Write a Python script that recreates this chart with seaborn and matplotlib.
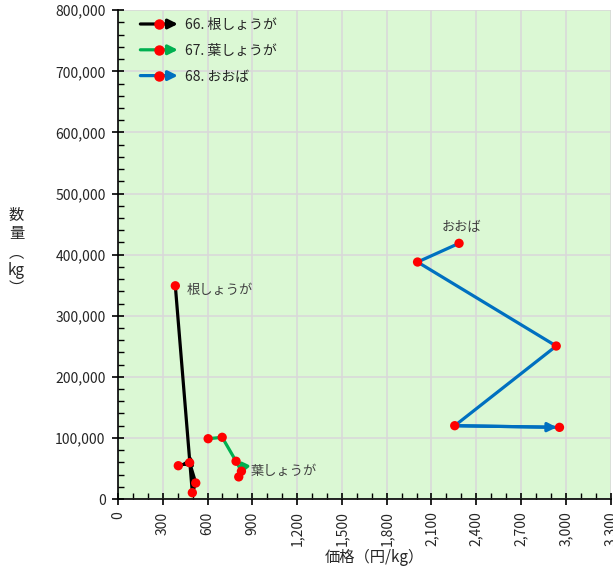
import numpy as np
import pandas as pd
import matplotlib
matplotlib.use("Agg")
import matplotlib.pyplot as plt
import seaborn as sns
from matplotlib.lines import Line2D
from matplotlib.patches import FancyArrowPatch
from matplotlib.legend_handler import HandlerBase
from matplotlib.ticker import MultipleLocator, FuncFormatter

# data (price yen/kg, quantity kg)
series_names = ["66. 根しょうが", "67. 葉しょうが", "68. おおば"]
short_names = ["根しょうが", "葉しょうが", "おおば"]
colors = ["#000000", "#00b050", "#0070c0"]

ne_price = [384, 498, 521, 480, 404]
ne_qty = [349000, 10300, 26200, 59400, 54500]

ha_price = [604, 698, 791, 827, 809]
ha_qty = [98700, 101000, 61800, 45500, 36200]

ooba_price = [2285, 2007, 2936, 2256, 2958]
ooba_qty = [418500, 387900, 250400, 120000, 117300]

sns.set_theme(style="white")
plt.rcParams["font.family"] = ["Noto Sans CJK JP", "DejaVu Sans"]

fig, ax = plt.subplots(figsize=(6.13, 5.69), dpi=100)
fig.subplots_adjust(left=0.1925, right=0.996, top=0.982, bottom=0.123)
ax.set_facecolor("#dbf8d4")

all_series = [(ne_price, ne_qty), (ha_price, ha_qty), (ooba_price, ooba_qty)]

for (px, qy), name, c in zip(all_series, short_names, colors):
    df = pd.DataFrame({"price": px, "qty": qy})
    sns.lineplot(data=df, x="price", y="qty", sort=False, estimator=None,
                 color=c, lw=2.3, ax=ax, zorder=3)
    # arrow head on last segment
    ax.annotate("", xy=(px[-1], qy[-1]), xytext=(px[-2], qy[-2]),
                arrowprops=dict(arrowstyle="-|>", color=c, lw=2.3,
                                mutation_scale=13, shrinkA=0, shrinkB=2),
                zorder=4)
    sns.scatterplot(data=df, x="price", y="qty", color="#ff0000", s=45,
                    edgecolor="none", ax=ax, zorder=5)

lab_col = "#404040"
ax.annotate(short_names[0], xy=(ne_price[0], ne_qty[0]), xytext=(11, -5),
            textcoords="offset pixels", ha="left", va="center",
            fontsize=9.5, color=lab_col)
ax.annotate(short_names[1], xy=(ha_price[-1], ha_qty[-1]), xytext=(12, 5),
            textcoords="offset pixels", ha="left", va="center",
            fontsize=9.5, color=lab_col)
ax.annotate(short_names[2], xy=(ooba_price[0], ooba_qty[0]), xytext=(2, 16),
            textcoords="offset pixels", ha="center", va="center",
            fontsize=9.5, color=lab_col)

ax.set_xlim(0, 3300)
ax.set_ylim(0, 800000)
ax.xaxis.set_major_locator(MultipleLocator(300))
ax.xaxis.set_minor_locator(MultipleLocator(100))
ax.yaxis.set_major_locator(MultipleLocator(100000))
ax.yaxis.set_minor_locator(MultipleLocator(20000))
fmt = FuncFormatter(lambda v, p: f"{int(v):,}")
ax.xaxis.set_major_formatter(fmt)
ax.yaxis.set_major_formatter(fmt)
ax.grid(True, which="major", color="#d9d9d9", lw=1.2)
ax.set_axisbelow(True)

for s in ["top", "right"]:
    ax.spines[s].set_visible(False)
for s in ["left", "bottom"]:
    ax.spines[s].set_color("black")
    ax.spines[s].set_linewidth(1.2)

ax.tick_params(which="major", direction="inout", length=8, width=1.2,
               color="black", labelsize=10, pad=5, bottom=True, left=True)
ax.tick_params(which="minor", direction="in", length=4, width=1,
               color="black", bottom=True, left=True)
plt.setp(ax.get_xticklabels(), rotation=90)

ax.set_xlabel("価格（円/kg）", fontsize=11)
ax.xaxis.set_label_coords(0.52, -0.103)

# vertical y label (vertical-form brackets)
ax.set_ylabel("数\n量\n︵\nkg\n︶", rotation=0, fontsize=11,
              va="center", ha="center", linespacing=1.1)
ax.yaxis.set_label_coords(-0.206, 0.505)


class ArrowHandler(HandlerBase):
    def create_artists(self, legend, orig_handle, xdescent, ydescent,
                       width, height, fontsize, trans):
        c = orig_handle.get_color()
        y = height / 2 - ydescent
        x0 = -xdescent
        arr = FancyArrowPatch((x0, y), (x0 + width, y), arrowstyle="-|>",
                              mutation_scale=14, lw=2.3, color=c,
                              shrinkA=0, shrinkB=0, transform=trans)
        dot = Line2D([x0 + width / 2], [y], marker="o", color="#ff0000",
                     ms=6.5, lw=0, transform=trans)
        return [arr, dot]


handles = [Line2D([], [], color=c) for c in colors]
ax.legend(handles, series_names, handler_map={Line2D: ArrowHandler()},
          loc="upper left", bbox_to_anchor=(0.02, 1.01), frameon=False,
          fontsize=10, handlelength=2.7, handletextpad=0.5,
          labelspacing=0.85)

fig.savefig("out.png", dpi=100)
